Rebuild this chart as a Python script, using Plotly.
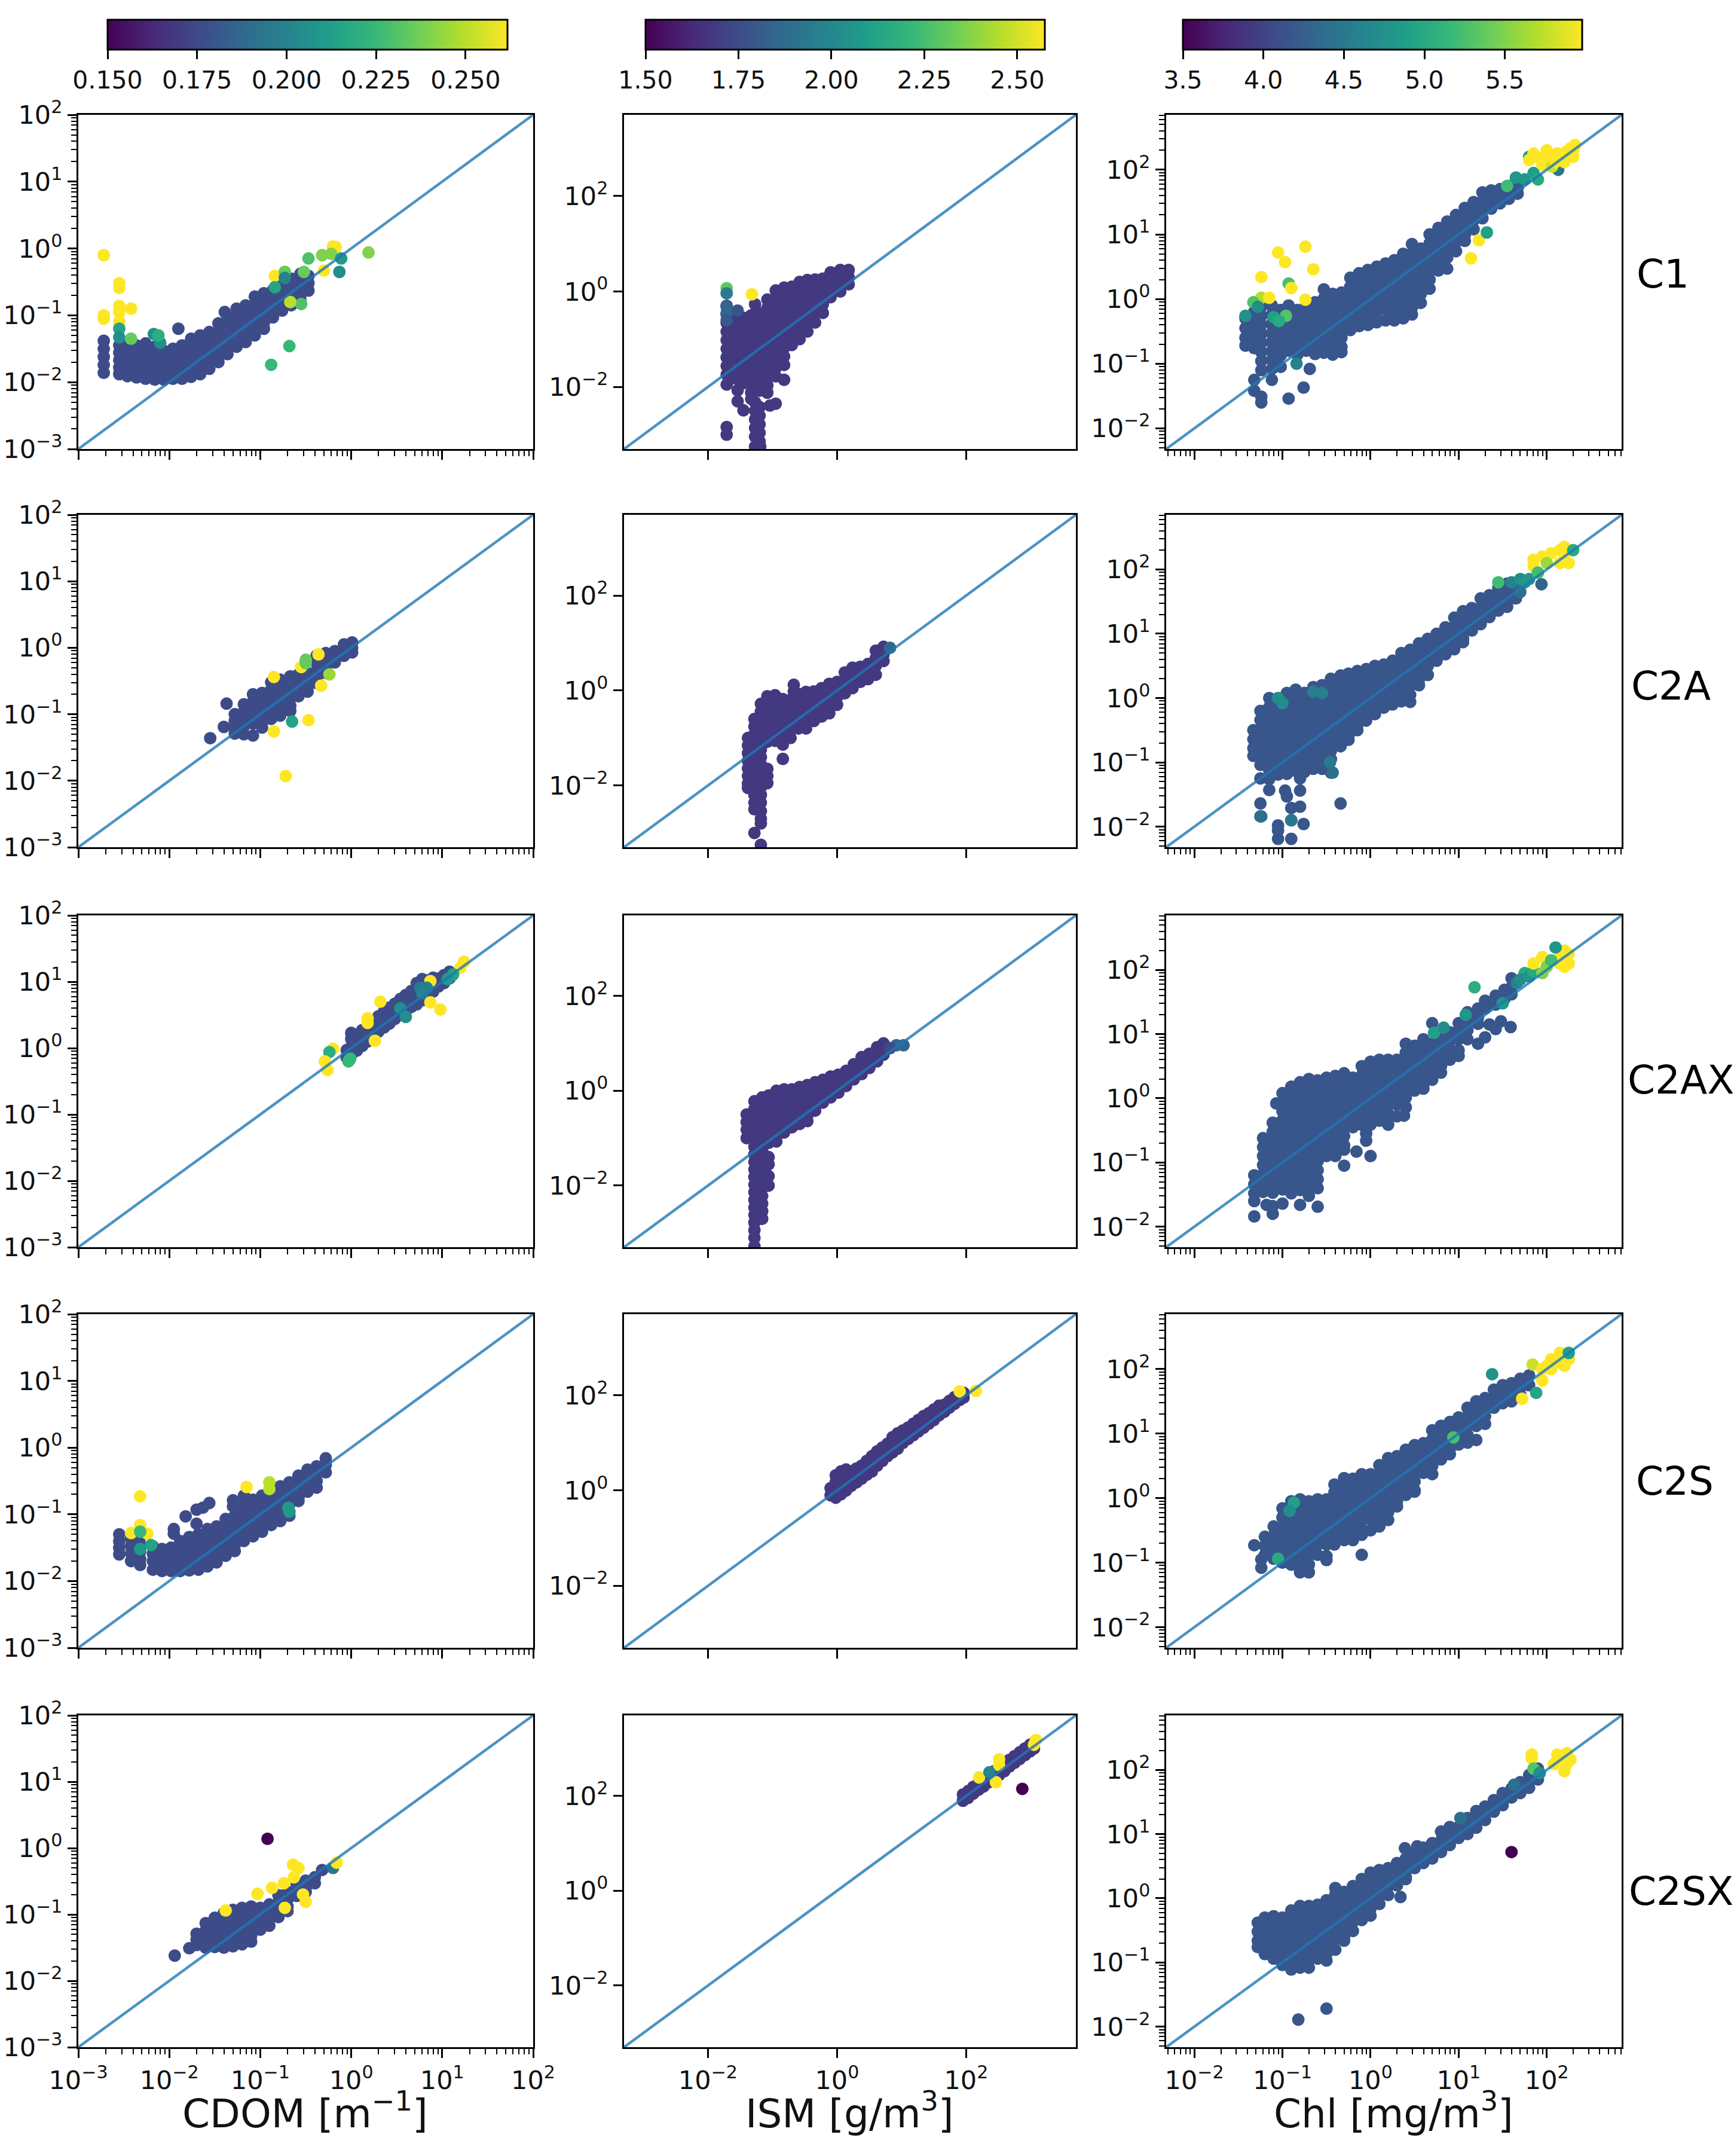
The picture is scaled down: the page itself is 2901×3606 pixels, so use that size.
import plotly.graph_objects as go
from plotly.subplots import make_subplots

# all point positions below are log10 values
# clouds: (x, [y, y, ...]) columns, others: (x, y, colour value)

# ---- CDOM column ----
c1_cdom_cloud = [
    (-2.72, [-1.38, -1.5, -1.62, -1.74, -1.86]),
    (-2.55, [-1.45, -1.56, -1.67, -1.78, -1.88]),
    (-2.46, [-1.42, -1.53, -1.64, -1.75, -1.86, -1.91]),
    (-2.36, [-1.45, -1.56, -1.67, -1.78, -1.89, -1.93]),
    (-2.26, [-1.42, -1.53, -1.64, -1.75, -1.86, -1.95]),
    (-2.16, [-1.47, -1.58, -1.69, -1.8, -1.91, -1.96]),
    (-2.06, [-1.53, -1.64, -1.75, -1.86, -1.96]),
    (-1.96, [-1.5, -1.61, -1.72, -1.83, -1.95]),
    (-1.9, [-1.2]),
    (-1.86, [-1.45, -1.56, -1.67, -1.78, -1.89, -1.95]),
    (-1.76, [-1.35, -1.46, -1.57, -1.68, -1.79, -1.92]),
    (-1.66, [-1.3, -1.41, -1.52, -1.63, -1.74, -1.88]),
    (-1.56, [-1.25, -1.36, -1.47, -1.58, -1.69, -1.8]),
    (-1.46, [-1.12, -1.23, -1.34, -1.45, -1.56, -1.7]),
    (-1.39, [-0.95]),
    (-1.36, [-1.02, -1.13, -1.24, -1.35, -1.46, -1.58]),
    (-1.26, [-0.9, -1.01, -1.12, -1.23, -1.34, -1.47]),
    (-1.16, [-0.85, -0.96, -1.07, -1.18, -1.29, -1.4]),
    (-1.06, [-0.72, -0.83, -0.94, -1.05, -1.16, -1.3]),
    (-0.96, [-0.67, -0.78, -0.89, -1.0, -1.11, -1.2]),
    (-0.86, [-0.62, -0.73, -0.84, -0.95, -1.03]),
    (-0.76, [-0.5, -0.61, -0.72, -0.83, -0.93]),
    (-0.66, [-0.45, -0.56, -0.67, -0.78, -0.85]),
    (-0.56, [-0.38, -0.49, -0.6, -0.71, -0.77]),
    (-0.47, [-0.41, -0.52, -0.63]),
]
c1_cdom_other = [
    (-2.72, -0.1, 0.262), (-2.55, -0.52, 0.262), (-2.55, -0.59, 0.262), (-2.55, -0.86, 0.262),
    (-2.42, -0.9, 0.262), (-2.72, -1.0, 0.262), (-2.72, -1.05, 0.262), (-2.55, -0.95, 0.262),
    (-2.55, -1.09, 0.262), (-2.55, -1.2, 0.215), (-2.55, -1.33, 0.205), (-2.42, -1.35, 0.235),
    (-2.17, -1.28, 0.205), (-2.1, -1.41, 0.205), (-2.12, -1.3, 0.22),
    (-0.2, 0.03, 0.262), (-0.17, 0.02, 0.262), (-0.32, -0.1, 0.24), (-0.22, -0.08, 0.24),
    (0.19, -0.06, 0.24), (-0.47, -0.15, 0.23), (-0.11, -0.15, 0.21), (-0.13, -0.35, 0.205),
    (-0.3, -0.33, 0.262), (-0.84, -0.41, 0.262), (-0.73, -0.35, 0.235), (-0.73, -0.44, 0.2),
    (-0.52, -0.35, 0.235), (-0.55, -0.83, 0.23), (-0.67, -0.8, 0.25), (-0.68, -1.46, 0.225),
    (-0.88, -1.74, 0.225), (-0.84, -0.58, 0.215),
]

c2a_cdom_cloud = [
    (-1.55, [-1.36]),
    (-1.4, [-1.19]),
    (-1.37, [-0.84]),
    (-1.28, [-1.0, -1.1, -1.2, -1.29]),
    (-1.18, [-0.85, -0.96, -1.07, -1.18, -1.3]),
    (-1.08, [-0.7, -0.81, -0.92, -1.03, -1.14, -1.32]),
    (-0.98, [-0.68, -0.79, -0.9, -1.01, -1.12, -1.2]),
    (-0.88, [-0.52, -0.63, -0.74, -0.85, -0.96, -1.07]),
    (-0.78, [-0.48, -0.59, -0.7, -0.81, -0.92, -1.02]),
    (-0.67, [-0.43, -0.54, -0.65, -0.76, -0.87, -0.95]),
    (-0.58, [-0.4, -0.51, -0.62, -0.73]),
    (-0.48, [-0.38, -0.49, -0.6, -0.66]),
    (-0.38, [-0.12, -0.23, -0.34, -0.45, -0.53]),
    (-0.28, [-0.08, -0.19, -0.3, -0.38]),
    (-0.18, [-0.05, -0.14, -0.22]),
    (-0.08, [0.05, -0.05, -0.12]),
    (0.01, [0.08, 0.0, -0.07]),
]
c2a_cdom_other = [
    (-0.85, -0.44, 0.262), (-0.36, -0.1, 0.262), (-0.55, -0.29, 0.262), (-0.33, -0.57, 0.262),
    (-0.47, -1.09, 0.262), (-0.85, -1.26, 0.262), (-0.72, -1.93, 0.262), (-0.5, -0.23, 0.235),
    (-0.5, -0.18, 0.235), (-0.24, -0.4, 0.245), (-0.65, -1.11, 0.215),
]

c2ax_cdom_cloud = [
    (-0.05, [-0.14, -0.03]),
    (0.0, [-0.1, 0.02, 0.14, 0.23]),
    (0.06, [-0.04, 0.08, 0.2]),
    (0.12, [0.03, 0.15, 0.27]),
    (0.18, [0.1, 0.22, 0.34]),
    (0.24, [0.17, 0.29, 0.41]),
    (0.3, [0.25, 0.37, 0.48]),
    (0.36, [0.31, 0.43, 0.55]),
    (0.42, [0.37, 0.49, 0.61]),
    (0.48, [0.44, 0.56, 0.67]),
    (0.54, [0.51, 0.63, 0.74]),
    (0.6, [0.56, 0.68, 0.8]),
    (0.66, [0.62, 0.74, 0.86]),
    (0.72, [0.66, 0.78, 0.9, 0.98]),
    (0.78, [0.72, 0.84, 0.96, 1.04]),
    (0.84, [0.78, 0.9, 1.02]),
    (0.9, [0.85, 0.97, 1.06]),
    (0.96, [0.93, 1.05]),
    (1.02, [0.98, 1.1]),
    (1.08, [1.05, 1.15]),
]
c2ax_cdom_other = [
    (0.32, 0.7, 0.262), (0.18, 0.45, 0.262), (0.18, 0.38, 0.262), (0.87, 1.01, 0.262),
    (0.87, 0.69, 0.262), (0.98, 0.58, 0.262), (0.26, 0.11, 0.262), (-0.2, -0.01, 0.262),
    (-0.24, -0.06, 0.22), (-0.29, -0.2, 0.262), (-0.26, -0.33, 0.262), (-0.01, -0.16, 0.225),
    (-0.03, -0.2, 0.225), (0.6, 0.47, 0.205), (0.54, 0.6, 0.205), (1.24, 1.3, 0.262),
    (1.2, 1.21, 0.262), (1.12, 1.11, 0.215), (1.06, 1.04, 0.21), (0.83, 0.91, 0.2),
    (0.76, 0.91, 0.195), (0.78, 0.83, 0.2),
]

c2s_cdom_cloud = [
    (-2.55, [-1.3, -1.4, -1.5, -1.6]),
    (-2.42, [-1.36, -1.47, -1.58, -1.7]),
    (-2.32, [-1.34, -1.45, -1.56, -1.67, -1.76]),
    (-2.18, [-1.48, -1.59, -1.7, -1.83]),
    (-2.08, [-1.52, -1.63, -1.74, -1.85]),
    (-1.98, [-1.5, -1.61, -1.72, -1.85]),
    (-1.95, [-1.29, -1.22]),
    (-1.88, [-1.4, -1.51, -1.62, -1.73, -1.85]),
    (-1.82, [-1.03]),
    (-1.78, [-1.34, -1.45, -1.56, -1.67, -1.78, -1.84]),
    (-1.7, [-0.93, -1.14]),
    (-1.68, [-1.3, -1.41, -1.52, -1.63, -1.74, -1.83]),
    (-1.63, [-0.9]),
    (-1.58, [-1.22, -1.33, -1.44, -1.55, -1.66, -1.78]),
    (-1.56, [-0.83]),
    (-1.48, [-1.18, -1.29, -1.4, -1.51, -1.62, -1.72]),
    (-1.38, [-1.07, -1.18, -1.29, -1.4, -1.51, -1.62]),
    (-1.3, [-0.79, -0.88]),
    (-1.28, [-1.02, -1.13, -1.24, -1.35, -1.46, -1.55]),
    (-1.18, [-0.72, -0.85, -0.96, -1.07, -1.18, -1.29, -1.4]),
    (-1.08, [-0.78, -0.89, -1.0, -1.11, -1.22, -1.33]),
    (-0.98, [-0.72, -0.83, -0.94, -1.05, -1.16, -1.26]),
    (-0.88, [-0.65, -0.76, -0.87, -0.98, -1.09, -1.16]),
    (-0.78, [-0.58, -0.69, -0.8, -0.91, -1.02, -1.1]),
    (-0.68, [-0.52, -0.63, -0.74, -0.85, -0.96, -1.02]),
    (-0.58, [-0.42, -0.53, -0.64, -0.75, -0.8]),
    (-0.48, [-0.33, -0.44, -0.55, -0.66]),
    (-0.38, [-0.28, -0.39, -0.5, -0.6]),
    (-0.28, [-0.16, -0.26, -0.37]),
]
c2s_cdom_other = [
    (-2.32, -0.73, 0.262), (-2.32, -1.16, 0.262), (-2.42, -1.28, 0.262), (-2.24, -1.29, 0.262),
    (-2.32, -1.26, 0.225), (-2.32, -1.52, 0.21), (-2.2, -1.46, 0.215),
    (-1.15, -0.59, 0.262), (-0.9, -0.52, 0.25), (-0.9, -0.62, 0.25),
    (-0.69, -0.9, 0.21), (-0.68, -0.96, 0.21),
]

c2sx_cdom_cloud = [
    (-1.94, [-1.62]),
    (-1.78, [-1.51]),
    (-1.7, [-1.29, -1.38, -1.46]),
    (-1.6, [-1.13, -1.24, -1.35, -1.46, -1.5]),
    (-1.5, [-1.05, -1.16, -1.27, -1.38, -1.49]),
    (-1.4, [-0.98, -1.09, -1.2, -1.31, -1.42, -1.5]),
    (-1.3, [-0.93, -1.04, -1.15, -1.26, -1.37, -1.48]),
    (-1.2, [-0.9, -1.01, -1.12, -1.23, -1.34, -1.45]),
    (-1.1, [-0.88, -0.99, -1.1, -1.21, -1.32, -1.41]),
    (-1.0, [-0.9, -1.01, -1.12, -1.23]),
    (-0.9, [-0.85, -0.96, -1.07, -1.17]),
    (-0.8, [-0.71, -0.82, -0.93, -1.04]),
    (-0.7, [-0.66, -0.77, -0.88, -0.95]),
    (-0.6, [-0.55, -0.66, -0.72]),
    (-0.5, [-0.49, -0.6, -0.66]),
    (-0.4, [-0.44, -0.53]),
    (-0.32, [-0.33]),
]
c2sx_cdom_other = [
    (-0.2, -0.3, 0.195), (-0.92, 0.14, 0.15), (-0.64, -0.25, 0.262), (-0.58, -0.3, 0.262),
    (-0.16, -0.22, 0.262), (-0.87, -0.6, 0.262), (-1.03, -0.69, 0.262), (-0.74, -0.53, 0.262),
    (-0.63, -0.44, 0.262), (-0.5, -0.81, 0.262), (-0.53, -0.7, 0.262), (-0.73, -0.9, 0.262),
    (-1.38, -0.94, 0.262),
]

# ---- ISM column ----
c1_ism_cloud = [
    (-1.71, [-0.3, -0.48, -0.66, -0.84, -1.02, -1.2, -1.38, -1.56, -1.74, -1.95, -2.84, -3.0]),
    (-1.58, [-0.6, -0.78, -0.96, -1.14, -1.32, -1.5, -1.68, -1.82]),
    (-1.54, [-2.07, -2.3]),
    (-1.45, [-0.55, -0.73, -0.91, -1.09, -1.27, -1.45, -1.63, -1.81, -1.92, -2.49]),
    (-1.33, [-0.5, -0.68, -0.86, -1.04, -1.22, -1.4, -1.58, -1.76, -1.94, -2.12, -2.25]),
    (-1.27, [-0.27, -2.32, -2.5, -2.68, -2.86, -3.04, -3.25]),
    (-1.2, [-0.46, -0.64, -0.82, -1.0, -1.18, -1.36, -1.54, -1.72, -1.9, -2.08, -2.42, -2.6, -2.78, -2.96, -3.14]),
    (-1.19, [-3.25]),
    (-1.08, [-0.17, -0.35, -0.53, -0.71, -0.89, -1.07, -1.25, -1.43, -1.61, -1.79, -1.97, -2.12]),
    (-1.04, [-2.39]),
    (-0.95, [0.02, -0.16, -0.34, -0.52, -0.7, -0.88, -1.06, -1.24, -1.42, -1.6, -1.78, -2.35]),
    (-0.82, [0.08, -0.1, -0.28, -0.46, -0.64, -0.82, -1.0, -1.18, -1.36, -1.54, -1.85]),
    (-0.7, [0.1, -0.08, -0.26, -0.44, -0.62, -0.8, -0.98, -1.12]),
    (-0.58, [0.2, 0.02, -0.16, -0.34, -0.52, -0.7, -0.88, -1.0]),
    (-0.46, [0.24, 0.06, -0.12, -0.3, -0.48, -0.66, -0.84]),
    (-0.34, [0.25, 0.07, -0.11, -0.29, -0.47, -0.65]),
    (-0.22, [0.27, 0.09, -0.09, -0.27, -0.45]),
    (-0.1, [0.4, 0.22, 0.04, -0.12]),
    (0.05, [0.45, 0.3, 0.15, 0.0]),
    (0.18, [0.45, 0.3, 0.15]),
]
c1_ism_other = [
    (-1.71, 0.07, 2.3), (-1.71, -0.04, 1.95), (-1.32, -0.06, 2.57), (-1.71, -0.32, 1.85),
    (-1.71, -0.45, 1.85), (-1.71, -0.6, 1.8), (-1.54, -0.4, 1.78),
]

c2a_ism_cloud = [
    (-1.38, [-1.0, -1.16, -1.32, -1.48, -1.64, -1.8, -1.96, -2.05]),
    (-1.28, [-0.6, -0.76, -0.92, -1.08, -1.24, -1.4, -1.56, -1.72, -1.88, -2.04, -2.2, -2.36, -2.5, -3.0]),
    (-1.18, [-0.28, -0.44, -0.6, -0.76, -0.92, -1.08, -1.24, -1.4, -1.56, -1.72, -1.88, -2.04, -2.2, -2.36, -2.54, -2.7, -2.8, -3.25]),
    (-1.08, [-0.12, -0.28, -0.44, -0.6, -0.76, -0.92, -1.08, -1.65, -1.8, -1.95]),
    (-0.96, [-0.1, -0.26, -0.42, -0.58, -0.74, -0.9, -1.06]),
    (-0.84, [-0.18, -0.34, -0.5, -0.66, -0.82, -0.98, -1.14, -1.44]),
    (-0.72, [-0.2, -0.36, -0.52, -0.68, -0.84, -1.0]),
    (-0.67, [0.12, -0.02]),
    (-0.6, [-0.07, -0.23, -0.39, -0.55, -0.71, -0.8]),
    (-0.48, [-0.03, -0.19, -0.35, -0.51, -0.67, -0.8]),
    (-0.36, [-0.02, -0.18, -0.34, -0.5, -0.64]),
    (-0.24, [0.05, -0.11, -0.27, -0.43, -0.55]),
    (-0.12, [0.14, -0.02, -0.18, -0.34, -0.48]),
    (0.0, [0.18, 0.02, -0.14, -0.3]),
    (0.12, [0.38, 0.22, 0.06, -0.06]),
    (0.24, [0.48, 0.32, 0.16, 0.05]),
    (0.36, [0.5, 0.34, 0.18]),
    (0.48, [0.56, 0.4, 0.24]),
    (0.6, [0.84, 0.68, 0.52, 0.33]),
    (0.72, [0.92, 0.76, 0.62]),
]
c2a_ism_other = [
    (0.82, 0.9, 1.85),
]

c2ax_ism_cloud = [
    (-1.4, [-0.5, -0.66, -0.82, -1.0]),
    (-1.28, [-0.22, -0.38, -0.54, -0.7, -0.86, -1.02, -1.18, -1.34, -1.5, -1.66, -1.82, -1.98, -2.14, -2.3, -2.46, -2.62, -2.78, -2.94, -3.1, -3.28]),
    (-1.16, [-0.14, -0.3, -0.46, -0.62, -0.78, -0.94, -1.1, -1.26, -1.42, -1.58, -1.74, -1.9, -2.06, -2.22, -2.38, -2.54, -2.7]),
    (-1.06, [-0.1, -0.26, -0.42, -0.58, -0.74, -0.9, -1.1, -1.4, -1.55, -1.8, -2.0]),
    (-0.94, [0.0, -0.16, -0.32, -0.48, -0.64, -0.8, -0.96, -1.07]),
    (-0.82, [0.03, -0.13, -0.29, -0.45, -0.61, -0.77, -0.88]),
    (-0.7, [0.03, -0.13, -0.29, -0.45, -0.61, -0.77]),
    (-0.58, [0.08, -0.08, -0.24, -0.4, -0.56, -0.7]),
    (-0.46, [0.12, -0.04, -0.2, -0.36, -0.52, -0.64]),
    (-0.34, [0.18, 0.02, -0.14, -0.3, -0.42]),
    (-0.22, [0.23, 0.07, -0.09, -0.25]),
    (-0.1, [0.3, 0.14, -0.02, -0.14]),
    (0.02, [0.34, 0.18, 0.02, -0.04]),
    (0.14, [0.42, 0.26, 0.1]),
    (0.26, [0.56, 0.4, 0.24]),
    (0.38, [0.71, 0.55, 0.35]),
    (0.5, [0.78, 0.62, 0.48]),
    (0.62, [0.92, 0.76, 0.62]),
    (0.72, [1.0, 0.86, 0.76]),
]
c2ax_ism_other = [
    (0.92, 0.96, 1.85), (1.03, 0.96, 1.85), (0.82, 0.9, 1.75),
]

c2s_ism_cloud = [
    (-0.1, [-0.1, 0.05]),
    (-0.02, [-0.15, 0.02, 0.18, 0.32]),
    (0.06, [-0.08, 0.08, 0.24, 0.4]),
    (0.14, [0.0, 0.16, 0.32, 0.44]),
    (0.22, [0.1, 0.26, 0.4]),
    (0.3, [0.17, 0.33, 0.46]),
    (0.38, [0.25, 0.41, 0.52]),
    (0.46, [0.33, 0.49, 0.62]),
    (0.54, [0.4, 0.56, 0.72]),
    (0.62, [0.52, 0.68, 0.82]),
    (0.7, [0.62, 0.78, 0.9]),
    (0.78, [0.72, 0.88, 0.98]),
    (0.86, [0.8, 0.96, 1.12]),
    (0.94, [0.88, 1.04, 1.2]),
    (1.02, [1.0, 1.16, 1.26]),
    (1.1, [1.08, 1.24, 1.32]),
    (1.18, [1.16, 1.32, 1.4]),
    (1.26, [1.24, 1.4, 1.48]),
    (1.34, [1.32, 1.48, 1.56]),
    (1.42, [1.4, 1.56, 1.62]),
    (1.5, [1.48, 1.64, 1.7]),
    (1.58, [1.58, 1.72, 1.78]),
    (1.66, [1.65, 1.8]),
    (1.74, [1.74, 1.88]),
    (1.82, [1.82, 1.96]),
    (1.9, [1.9, 2.02]),
    (1.96, [1.95, 2.05]),
]
c2s_ism_other = [
    (1.9, 2.08, 2.57), (2.15, 2.09, 2.57),
]

c2sx_ism_cloud = [
    (1.95, [1.9, 2.03]),
    (2.03, [1.96, 2.1]),
    (2.11, [2.05, 2.19]),
    (2.19, [2.13, 2.27]),
    (2.27, [2.2, 2.36]),
    (2.35, [2.29, 2.44]),
    (2.43, [2.36, 2.52]),
    (2.51, [2.44, 2.6]),
    (2.59, [2.52, 2.68]),
    (2.67, [2.62, 2.76]),
    (2.75, [2.7, 2.84]),
    (2.83, [2.78, 2.92]),
    (2.91, [2.86, 3.0]),
    (2.99, [2.94, 3.08]),
    (3.05, [3.0, 3.12]),
]
c2sx_ism_other = [
    (2.51, 2.77, 2.57), (2.51, 2.65, 2.57), (2.2, 2.39, 2.57), (2.46, 2.29, 2.57),
    (2.36, 2.5, 2.0), (3.08, 3.18, 2.57), (3.05, 3.08, 2.57), (2.87, 2.15, 1.5),
]

# ---- Chl column ----
c1_chl_cloud = [
    (-1.42, [-0.3, -0.45, -0.6, -0.72]),
    (-1.32, [-0.2, -0.34, -0.48, -0.62, -0.76, -1.25, -1.42]),
    (-1.24, [-0.12, -0.26, -0.4, -0.54, -0.68, -0.82, -0.96, -1.1, -1.51, -1.6]),
    (-1.12, [-0.1, -0.24, -0.38, -0.52, -0.66, -0.8, -0.94, -1.08, -1.25]),
    (-1.02, [-0.17, -0.31, -0.45, -0.59, -0.73, -0.87, -1.05]),
    (-0.93, [-0.1, -0.24, -0.38, -0.52, -0.66, -0.8, -1.54]),
    (-0.83, [-0.17, -0.31, -0.45, -0.59, -0.73, -0.86]),
    (-0.76, [-1.37]),
    (-0.73, [-0.1, -0.24, -0.38, -0.52, -0.66, -0.8]),
    (-0.69, [-1.08]),
    (-0.63, [-0.05, -0.19, -0.33, -0.47, -0.61, -0.75, -0.85]),
    (-0.53, [0.15, 0.01, -0.13, -0.27, -0.41, -0.55, -0.69, -0.83]),
    (-0.43, [0.08, -0.06, -0.2, -0.34, -0.48, -0.62, -0.76, -0.86]),
    (-0.33, [0.1, -0.04, -0.18, -0.32, -0.46, -0.6, -0.74, -0.82]),
    (-0.23, [0.33, 0.19, 0.05, -0.09, -0.23, -0.37, -0.48]),
    (-0.13, [0.4, 0.26, 0.12, -0.02, -0.16, -0.3, -0.42]),
    (-0.03, [0.45, 0.31, 0.17, 0.03, -0.11, -0.25, -0.4]),
    (0.07, [0.5, 0.36, 0.22, 0.08, -0.06, -0.2, -0.36]),
    (0.17, [0.55, 0.41, 0.27, 0.13, -0.01, -0.15, -0.33]),
    (0.27, [0.6, 0.46, 0.32, 0.18, 0.04, -0.1, -0.24, -0.33]),
    (0.37, [0.7, 0.56, 0.42, 0.28, 0.14, 0.0, -0.14, -0.3]),
    (0.47, [0.85, 0.71, 0.57, 0.43, 0.29, 0.15, 0.01, -0.13, -0.24]),
    (0.57, [0.78, 0.64, 0.5, 0.36, 0.22, 0.08, -0.06]),
    (0.67, [1.0, 0.86, 0.72, 0.58, 0.44, 0.3, 0.16]),
    (0.77, [1.1, 0.96, 0.82, 0.68, 0.54, 0.44]),
    (0.87, [1.2, 1.06, 0.92, 0.78, 0.64, 0.47]),
    (0.97, [1.3, 1.16, 1.02, 0.88, 0.74]),
    (1.07, [1.41, 1.27, 1.13, 0.99, 0.9]),
    (1.17, [1.5, 1.36, 1.22, 1.08]),
    (1.27, [1.65, 1.51, 1.37, 1.25]),
    (1.37, [1.68, 1.54, 1.4]),
    (1.47, [1.7, 1.56, 1.48]),
    (1.57, [1.75, 1.62, 1.55]),
    (1.67, [1.85, 1.72, 1.63]),
]
c1_chl_other = [
    (-0.74, 0.81, 6.0), (-1.05, 0.72, 6.0), (-0.97, 0.57, 6.0), (-0.65, 0.46, 6.0),
    (-1.24, 0.34, 6.0), (-0.93, 0.24, 5.25), (-0.9, 0.17, 6.0), (-1.24, 0.02, 5.7),
    (-1.15, 0.02, 6.0), (-0.74, -0.01, 6.0), (-1.33, -0.05, 5.3), (-1.42, -0.26, 4.75),
    (-1.28, -0.12, 4.7), (-1.1, -0.28, 4.9), (-0.96, -0.26, 5.3), (-1.04, -0.34, 5.0),
    (-0.84, -1.0, 4.6), (1.14, 0.63, 6.0), (1.23, 0.91, 6.0), (1.32, 1.03, 4.9),
    (1.55, 1.75, 5.2), (1.65, 1.88, 4.8), (1.75, 1.85, 4.8), (1.85, 1.95, 4.9),
    (1.9, 1.85, 5.0), (2.13, 2.0, 4.5), (1.8, 2.2, 4.8), (1.8, 2.15, 6.0),
    (1.92, 2.18, 6.0), (2.02, 2.2, 6.0), (2.12, 2.25, 6.0), (2.22, 2.28, 6.0),
    (2.27, 2.33, 6.0), (2.15, 2.15, 6.0), (2.3, 2.2, 6.0), (1.95, 2.08, 6.0),
    (2.06, 2.05, 5.8), (2.2, 2.12, 6.0), (1.85, 2.25, 6.0), (2.0, 2.3, 6.0),
    (2.1, 2.12, 6.0), (2.25, 2.2, 6.0), (2.3, 2.3, 6.0), (2.32, 2.38, 6.0),
]

c2a_chl_cloud = [
    (-1.33, [-0.5, -0.64, -0.78, -0.9]),
    (-1.25, [-0.2, -0.34, -0.48, -0.62, -0.76, -0.9, -1.04, -1.25, -1.64, -1.84]),
    (-1.15, [0.0, -0.14, -0.28, -0.42, -0.56, -0.7, -0.84, -0.98, -1.12, -1.26, -1.43]),
    (-1.05, [-0.07, -0.21, -0.35, -0.49, -0.63, -0.77, -0.91, -1.05, -1.19, -1.98, -2.06, -2.19]),
    (-0.97, [-1.44]),
    (-0.95, [0.08, -0.06, -0.2, -0.34, -0.48, -0.62, -0.76, -0.9, -1.04, -1.18, -1.53]),
    (-0.9, [-1.71, -1.9, -2.19]),
    (-0.85, [0.13, -0.01, -0.15, -0.29, -0.43, -0.57, -0.71, -0.85, -0.99, -1.13]),
    (-0.8, [-1.25, -1.44, -1.69]),
    (-0.76, [-1.96]),
    (-0.75, [0.08, -0.06, -0.2, -0.34, -0.48, -0.62, -0.76, -0.9, -1.04, -1.15]),
    (-0.65, [0.17, 0.03, -0.11, -0.25, -0.39, -0.53, -0.67, -0.81, -0.95, -1.1]),
    (-0.55, [0.2, 0.06, -0.08, -0.22, -0.36, -0.5, -0.64, -0.78, -0.92, -1.0, -1.1]),
    (-0.45, [0.3, 0.16, 0.02, -0.12, -0.26, -0.4, -0.54, -0.68, -0.82, -0.95, -1.16]),
    (-0.34, [0.35, 0.21, 0.07, -0.07, -0.21, -0.35, -0.49, -0.63, -0.75, -1.64]),
    (-0.25, [0.38, 0.24, 0.1, -0.04, -0.18, -0.32, -0.46, -0.6, -0.65]),
    (-0.15, [0.42, 0.28, 0.14, 0.0, -0.14, -0.28, -0.42, -0.5]),
    (-0.05, [0.45, 0.31, 0.17, 0.03, -0.11, -0.25, -0.35]),
    (0.05, [0.5, 0.36, 0.22, 0.08, -0.06, -0.2, -0.25]),
    (0.15, [0.52, 0.38, 0.24, 0.1, -0.04, -0.15]),
    (0.25, [0.58, 0.44, 0.3, 0.16, 0.02, -0.1]),
    (0.35, [0.7, 0.56, 0.42, 0.28, 0.14, 0.0, -0.05]),
    (0.45, [0.75, 0.61, 0.47, 0.33, 0.19, 0.05, -0.06]),
    (0.55, [0.85, 0.71, 0.57, 0.43, 0.29, 0.2]),
    (0.65, [0.92, 0.78, 0.64, 0.5, 0.36]),
    (0.75, [1.0, 0.86, 0.72, 0.58]),
    (0.85, [1.1, 0.96, 0.82, 0.68]),
    (0.95, [1.25, 1.11, 0.97, 0.83, 0.76]),
    (1.05, [1.35, 1.21, 1.07, 0.93, 0.87]),
    (1.15, [1.4, 1.26, 1.12, 1.05]),
    (1.25, [1.55, 1.41, 1.27, 1.15]),
    (1.35, [1.6, 1.46, 1.32, 1.26]),
    (1.45, [1.72, 1.58, 1.44, 1.36]),
    (1.55, [1.78, 1.64, 1.5, 1.42]),
    (1.65, [1.78, 1.66, 1.55]),
]
c2a_chl_other = [
    (-1.05, 0.0, 4.7), (-1.0, -0.08, 4.7), (-0.65, 0.1, 4.55), (-0.55, 0.08, 4.55),
    (1.45, 1.8, 5.2), (1.6, 1.8, 4.6), (1.7, 1.85, 4.7), (1.75, 1.8, 4.8), (1.8, 1.85, 4.8),
    (1.7, 1.65, 4.4), (1.94, 1.77, 4.3), (1.85, 2.15, 6.0), (1.85, 2.05, 6.0), (1.95, 2.2, 6.0),
    (2.05, 2.25, 6.0), (2.15, 2.3, 6.0), (2.2, 2.35, 6.0), (2.25, 2.3, 6.0), (2.2, 2.15, 6.0),
    (2.25, 2.1, 6.0), (2.15, 2.1, 6.0), (1.9, 1.95, 5.2), (2.0, 2.1, 5.6), (2.3, 2.3, 5.0),
    (-0.43, -1.16, 4.4), (-0.46, -1.0, 4.5), (-1.24, -1.84, 4.4), (-0.9, -1.9, 4.5),
]

c2ax_chl_cloud = [
    (-1.32, [-1.2, -1.34, -1.48, -1.6, -1.84]),
    (-1.22, [-0.62, -0.76, -0.9, -1.04, -1.18, -1.32, -1.46]),
    (-1.18, [-1.66]),
    (-1.11, [-0.38, -0.52, -0.66, -0.8, -0.94, -1.08, -1.22, -1.36, -1.47, -1.68, -1.8]),
    (-1.07, [-0.08]),
    (-1.0, [0.08, -0.06, -0.2, -0.34, -0.48, -0.62, -0.76, -0.9, -1.04, -1.18, -1.32, -1.42, -1.64]),
    (-0.9, [0.18, 0.04, -0.1, -0.24, -0.38, -0.52, -0.66, -0.8, -0.94, -1.08, -1.22, -1.36, -1.48]),
    (-0.8, [0.25, 0.11, -0.03, -0.17, -0.31, -0.45, -0.59, -0.73, -0.87, -1.01, -1.15, -1.29, -1.43, -1.66]),
    (-0.7, [0.3, 0.16, 0.02, -0.12, -0.26, -0.4, -0.54, -0.68, -0.82, -0.96, -1.1, -1.24, -1.38, -1.52]),
    (-0.6, [0.28, 0.14, 0.0, -0.14, -0.28, -0.42, -0.56, -0.7, -0.84, -0.98, -1.12, -1.26, -1.4, -1.69]),
    (-0.5, [0.32, 0.18, 0.04, -0.1, -0.24, -0.38, -0.52, -0.66, -0.8, -0.9]),
    (-0.4, [0.35, 0.21, 0.07, -0.07, -0.21, -0.35, -0.49, -0.63, -0.77, -0.9]),
    (-0.3, [0.39, 0.25, 0.11, -0.03, -0.17, -0.31, -0.45, -0.59, -0.73, -0.8, -1.05]),
    (-0.2, [0.32, 0.18, 0.04, -0.1, -0.24, -0.38, -0.45]),
    (-0.16, [-0.83]),
    (-0.1, [0.5, 0.36, 0.22, 0.08, -0.06, -0.2, -0.34, -0.41]),
    (-0.05, [-0.55, -0.66]),
    (0.0, [0.57, 0.43, 0.29, 0.15, 0.01, -0.13, -0.27, -0.41, -0.9]),
    (0.1, [0.6, 0.46, 0.32, 0.18, 0.04, -0.1, -0.24, -0.35]),
    (0.2, [0.6, 0.46, 0.32, 0.18, 0.04, -0.1, -0.24, -0.33, -0.41]),
    (0.3, [0.6, 0.46, 0.32, 0.18, 0.04, -0.1, -0.28]),
    (0.38, [-0.27]),
    (0.4, [0.85, 0.71, 0.57, 0.43, 0.29, 0.15, 0.01, -0.14]),
    (0.5, [0.82, 0.68, 0.54, 0.4, 0.26, 0.12]),
    (0.6, [0.92, 0.78, 0.64, 0.5, 0.36, 0.22, 0.15]),
    (0.7, [1.17, 0.85, 0.71, 0.57, 0.43, 0.29]),
    (0.8, [0.92, 0.78, 0.64, 0.5, 0.4]),
    (0.9, [1.03, 0.89, 0.75, 0.6]),
    (1.0, [1.17, 1.06, 0.92, 0.75, 0.66]),
    (1.1, [1.34, 1.2, 1.06, 0.92]),
    (1.22, [1.4, 1.26, 1.16, 0.85]),
    (1.3, [1.52, 1.4, 0.95]),
    (1.35, [1.15]),
    (1.42, [1.6, 1.46, 1.08]),
    (1.48, [1.2]),
    (1.52, [1.69, 1.55]),
    (1.59, [1.11]),
    (1.6, [1.87, 1.73, 1.62]),
]
c2ax_chl_other = [
    (1.18, 1.73, 5.05), (1.66, 1.8, 4.6), (1.75, 1.95, 5.0), (1.7, 1.85, 4.7), (1.8, 1.9, 4.8),
    (1.08, 1.3, 4.8), (0.72, 1.02, 4.9), (0.83, 1.1, 4.7), (1.5, 1.48, 4.8),
    (1.85, 1.98, 5.0), (1.85, 2.1, 6.0), (1.95, 2.2, 6.0), (2.15, 2.2, 6.0), (2.2, 2.3, 6.0),
    (2.25, 2.25, 6.0), (2.25, 2.1, 6.0), (2.2, 2.05, 6.0), (2.15, 2.1, 6.0), (2.0, 2.05, 5.5),
    (1.95, 1.95, 5.5), (2.05, 2.15, 5.2), (2.1, 2.35, 4.8),
]

c2s_chl_cloud = [
    (-1.32, [-0.73]),
    (-1.24, [-0.95, -1.08]),
    (-1.2, [-0.6, -0.74, -0.88]),
    (-1.1, [-0.44, -0.58, -0.72, -0.86, -0.94]),
    (-1.0, [-0.16, -0.3, -0.44, -0.58, -0.72, -0.86, -1.0]),
    (-0.9, [-0.05, -0.19, -0.33, -0.47, -0.61, -0.75, -0.89, -1.03]),
    (-0.8, [-0.02, -0.16, -0.3, -0.44, -0.58, -0.72, -0.86, -1.0, -1.15]),
    (-0.7, [-0.05, -0.19, -0.33, -0.47, -0.61, -0.75, -0.89, -1.03, -1.15]),
    (-0.6, [-0.02, -0.16, -0.3, -0.44, -0.58, -0.72, -0.88]),
    (-0.5, [-0.02, -0.16, -0.3, -0.44, -0.58, -0.72, -0.96, -0.9]),
    (-0.41, [0.21, 0.09, -0.05, -0.19, -0.33, -0.47, -0.61, -0.72]),
    (-0.3, [0.31, 0.16, 0.02, -0.12, -0.26, -0.4, -0.54, -0.65]),
    (-0.2, [0.3, 0.16, 0.02, -0.12, -0.26, -0.4, -0.54, -0.65]),
    (-0.1, [0.37, 0.23, 0.09, -0.05, -0.19, -0.33, -0.47, -0.57, -0.88]),
    (0.0, [0.37, 0.23, 0.09, -0.05, -0.19, -0.33, -0.5]),
    (0.1, [0.51, 0.37, 0.23, 0.09, -0.05, -0.19, -0.33, -0.44]),
    (0.2, [0.62, 0.48, 0.34, 0.2, 0.06, -0.08, -0.22, -0.34]),
    (0.3, [0.65, 0.51, 0.37, 0.23, 0.09, -0.05, -0.13]),
    (0.4, [0.75, 0.61, 0.47, 0.33, 0.19, 0.05]),
    (0.5, [0.82, 0.68, 0.54, 0.4, 0.26, 0.12, 0.1]),
    (0.6, [0.85, 0.71, 0.57, 0.43, 0.39]),
    (0.7, [1.05, 0.91, 0.77, 0.63, 0.5, 0.37]),
    (0.8, [1.12, 0.98, 0.84, 0.7, 0.6]),
    (0.9, [1.18, 1.04, 0.9, 0.76, 0.68]),
    (1.0, [1.25, 1.11, 0.97, 0.83]),
    (1.1, [1.4, 1.26, 1.12, 0.98, 0.86]),
    (1.2, [1.5, 1.36, 1.22, 1.12, 0.9]),
    (1.3, [1.55, 1.41, 1.27, 1.15]),
    (1.4, [1.68, 1.54, 1.4]),
    (1.5, [1.75, 1.61, 1.47]),
    (1.6, [1.78, 1.64, 1.5]),
    (1.7, [1.85, 1.71, 1.6]),
    (1.8, [1.9, 1.75]),
]
c2s_chl_other = [
    (-0.87, -0.07, 4.9), (-0.92, -0.2, 4.7), (-1.05, -0.94, 5.0), (0.94, 0.94, 5.25),
    (1.38, 1.92, 4.75), (1.72, 1.54, 6.0), (1.88, 1.63, 4.95), (1.95, 1.82, 6.0),
    (1.84, 2.07, 5.8), (2.0, 2.05, 6.0), (2.05, 2.15, 6.0), (2.1, 2.1, 6.0), (2.15, 2.25, 6.0),
    (2.2, 2.05, 6.0), (2.25, 2.15, 6.0), (1.95, 2.0, 6.0), (2.05, 2.0, 6.0), (2.25, 2.25, 4.9),
]

c2sx_chl_cloud = [
    (-1.28, [-0.38, -0.52, -0.66, -0.76]),
    (-1.2, [-0.3, -0.44, -0.58, -0.72, -0.87]),
    (-1.1, [-0.28, -0.42, -0.56, -0.7, -0.84, -0.94]),
    (-1.0, [-0.3, -0.44, -0.58, -0.72, -0.86, -1.04]),
    (-0.9, [-0.19, -0.33, -0.47, -0.61, -0.75, -0.89, -1.03, -1.11]),
    (-0.82, [-1.89]),
    (-0.8, [-0.12, -0.26, -0.4, -0.54, -0.68, -0.82, -0.96, -1.08]),
    (-0.7, [-0.12, -0.26, -0.4, -0.54, -0.68, -0.82, -0.96, -1.08]),
    (-0.6, [-0.1, -0.24, -0.38, -0.52, -0.66, -0.8, -0.94]),
    (-0.5, [-0.03, -0.17, -0.31, -0.45, -0.59, -0.73, -0.87, -0.97, -1.72]),
    (-0.4, [0.16, 0.06, -0.08, -0.22, -0.36, -0.5, -0.64, -0.8]),
    (-0.3, [0.1, -0.04, -0.18, -0.32, -0.46, -0.6, -0.66]),
    (-0.2, [0.19, 0.05, -0.09, -0.23, -0.37, -0.51]),
    (-0.1, [0.3, 0.16, 0.02, -0.12, -0.26, -0.34]),
    (0.0, [0.4, 0.26, 0.12, -0.02, -0.16, -0.27]),
    (0.1, [0.44, 0.3, 0.16, 0.02, -0.09]),
    (0.2, [0.47, 0.33, 0.19, 0.05]),
    (0.3, [0.55, 0.41, 0.27, 0.2]),
    (0.34, [0.02]),
    (0.39, [0.78]),
    (0.4, [0.62, 0.48, 0.34, 0.3]),
    (0.5, [0.72, 0.58, 0.47]),
    (0.53, [0.81]),
    (0.6, [0.79, 0.65, 0.55]),
    (0.7, [0.86, 0.72, 0.62]),
    (0.8, [1.04, 0.9, 0.76, 0.72]),
    (0.9, [1.11, 0.97, 0.83]),
    (1.0, [1.11, 0.98, 0.94]),
    (1.1, [1.25, 1.11, 1.0]),
    (1.2, [1.36, 1.22, 1.1]),
    (1.3, [1.43, 1.32, 1.22]),
    (1.4, [1.53, 1.42, 1.35]),
    (1.5, [1.64, 1.52, 1.45]),
    (1.6, [1.71, 1.62, 1.57]),
    (1.7, [1.81, 1.72, 1.64]),
    (1.8, [1.92, 1.82, 1.72]),
    (1.9, [2.02, 1.94, 1.85]),
]
c2sx_chl_other = [
    (1.6, 0.72, 3.5), (1.02, 1.25, 4.4), (1.63, 1.77, 4.4), (1.83, 2.24, 6.0), (1.83, 2.18, 6.0),
    (2.12, 2.24, 6.0), (2.23, 2.26, 6.0), (2.27, 2.16, 6.0), (2.2, 1.98, 6.0), (2.08, 2.09, 6.0),
    (2.15, 2.2, 6.0), (2.22, 2.08, 6.0), (1.85, 2.02, 5.3), (1.92, 1.95, 4.7),
]

row_names = ["C1", "C2A", "C2AX", "C2S", "C2SX"]
cdom_panels = [(c1_cdom_cloud, c1_cdom_other), (c2a_cdom_cloud, c2a_cdom_other), (c2ax_cdom_cloud, c2ax_cdom_other),
               (c2s_cdom_cloud, c2s_cdom_other), (c2sx_cdom_cloud, c2sx_cdom_other)]
ism_panels = [(c1_ism_cloud, c1_ism_other), (c2a_ism_cloud, c2a_ism_other), (c2ax_ism_cloud, c2ax_ism_other),
              (c2s_ism_cloud, c2s_ism_other), (c2sx_ism_cloud, c2sx_ism_other)]
chl_panels = [(c1_chl_cloud, c1_chl_other), (c2a_chl_cloud, c2a_chl_other), (c2ax_chl_cloud, c2ax_chl_other),
              (c2s_chl_cloud, c2s_chl_other), (c2sx_chl_cloud, c2sx_chl_other)]
columns = [cdom_panels, ism_panels, chl_panels]
cloud_value = [0.176, 1.68, 4.17]

col_titles = ["CDOM [m<sup>\u22121</sup>]", "ISM [g/m<sup>3</sup>]", "Chl [mg/m<sup>3</sup>]"]
col_limits = [(-3, 2), (-3.3, 3.7), (-2.32, 2.85)]
col_ticks = [[-3, -2, -1, 0, 1, 2], [-2, 0, 2], [-2, -1, 0, 1, 2]]
col_minor = [True, False, True]

cbar_min = [0.15, 1.5, 3.5]
cbar_max = [0.2617, 2.574, 5.98]
cbar_ticks = [[0.15, 0.175, 0.2, 0.225, 0.25], [1.5, 1.75, 2.0, 2.25, 2.5], [3.5, 4.0, 4.5, 5.0, 5.5]]
cbar_text = [["0.150", "0.175", "0.200", "0.225", "0.250"], ["1.50", "1.75", "2.00", "2.25", "2.50"],
             ["3.5", "4.0", "4.5", "5.0", "5.5"]]

# pixel layout of the page
W, H = 2901, 3606
col_px = [(131, 892), (1044, 1800), (1951, 2713)]
row_px = [(192, 751), (861, 1417), (1531, 2086), (2198, 2756), (2869, 3424)]
cbar_px = [(180, 849), (1080, 1748), (1979, 2647)]
row_label_px = [(2782, 458), (2795, 1148), (2812, 1806), (2802, 2477), (2812, 3163)]
title_px = [(510, 3530), (1421, 3530), (2331, 3530)]

FONT = "DejaVu Sans"
LINE = "rgba(31,119,180,0.8)"


def exp_label(k):
    s = str(k).replace("-", "\u2212")
    return f"10<sup>{s}</sup>"


def minor_vals(lo, hi):
    vals = []
    for k in range(int(lo) - 1, int(hi) + 1):
        for m in range(2, 10):
            vals.append(m * 10.0 ** k)
    return vals


fig = make_subplots(rows=5, cols=3)

for c, panels in enumerate(columns):
    lo, hi = col_limits[c]
    for r, (cloud, other) in enumerate(panels):
        xs, ys, vs = [], [], []
        for x, col_ys in cloud:
            for y in col_ys:
                xs.append(x)
                ys.append(y)
                vs.append(cloud_value[c])
        for x, y, v in other:
            xs.append(x)
            ys.append(y)
            vs.append(v)
        fig.add_trace(go.Scatter(
            x=[10 ** v for v in xs],
            y=[10 ** v for v in ys],
            mode="markers",
            marker=dict(size=21, color=vs, coloraxis="coloraxis" if c == 0 else f"coloraxis{c + 1}",
                        line=dict(width=0)),
            showlegend=False,
        ), row=r + 1, col=c + 1)
        fig.add_trace(go.Scatter(
            x=[10 ** lo, 10 ** hi],
            y=[10 ** lo, 10 ** hi],
            mode="lines",
            line=dict(color=LINE, width=4.5),
            showlegend=False,
        ), row=r + 1, col=c + 1)

        axis = dict(
            type="log",
            range=[lo, hi],
            tickmode="array",
            tickvals=[10.0 ** k for k in col_ticks[c]],
            ticktext=[exp_label(k) for k in col_ticks[c]],
            ticks="outside",
            ticklen=15,
            tickwidth=3,
            tickcolor="black",
            tickfont=dict(family=FONT, size=43, color="#111111"),
            showgrid=False,
            zeroline=False,
            showline=True,
            mirror=True,
            linecolor="black",
            linewidth=3,
        )
        if col_minor[c]:
            axis["minor"] = dict(ticks="outside", ticklen=9, tickwidth=2, tickcolor="black", showgrid=False,
                                 tickmode="array", tickvals=minor_vals(lo, hi))
        x0, x1 = col_px[c]
        y0, y1 = row_px[r]
        fig.update_xaxes(axis, domain=[x0 / W, x1 / W], showticklabels=(r == 4), row=r + 1, col=c + 1)
        fig.update_yaxes(axis, domain=[1 - y1 / H, 1 - y0 / H], row=r + 1, col=c + 1)

# colour bars above the columns
for c in range(3):
    name = "coloraxis" if c == 0 else f"coloraxis{c + 1}"
    x0, x1 = cbar_px[c]
    fig.update_layout({name: dict(
        colorscale="Viridis",
        cmin=cbar_min[c],
        cmax=cbar_max[c],
        colorbar=dict(
            orientation="h",
            x=x0 / W,
            xanchor="left",
            y=1 - 33 / H,
            yanchor="top",
            lenmode="pixels",
            len=x1 - x0,
            thicknessmode="pixels",
            thickness=50,
            xpad=0,
            ypad=0,
            outlinewidth=3,
            outlinecolor="black",
            tickmode="array",
            tickvals=cbar_ticks[c],
            ticktext=cbar_text[c],
            ticks="outside",
            ticklen=15,
            tickwidth=3,
            tickcolor="black",
            tickfont=dict(family=FONT, size=41, color="#111111"),
        ),
    )})

for name, (px, py) in zip(row_names, row_label_px):
    fig.add_annotation(text=name, xref="paper", yref="paper", x=px / W, y=1 - py / H,
                       xanchor="center", yanchor="middle", showarrow=False,
                       font=dict(family=FONT, size=66, color="black"))

for text, (px, py) in zip(col_titles, title_px):
    fig.add_annotation(text=text, xref="paper", yref="paper", x=px / W, y=1 - py / H,
                       xanchor="center", yanchor="middle", showarrow=False,
                       font=dict(family=FONT, size=66, color="#111111"))

fig.update_layout(
    width=W,
    height=H,
    margin=dict(l=0, r=0, t=0, b=0, autoexpand=False),
    paper_bgcolor="white",
    plot_bgcolor="white",
    showlegend=False,
)

fig.write_html("out.html", config={"displayModeBar": False}, post_script="document.body.style.margin='0';")
